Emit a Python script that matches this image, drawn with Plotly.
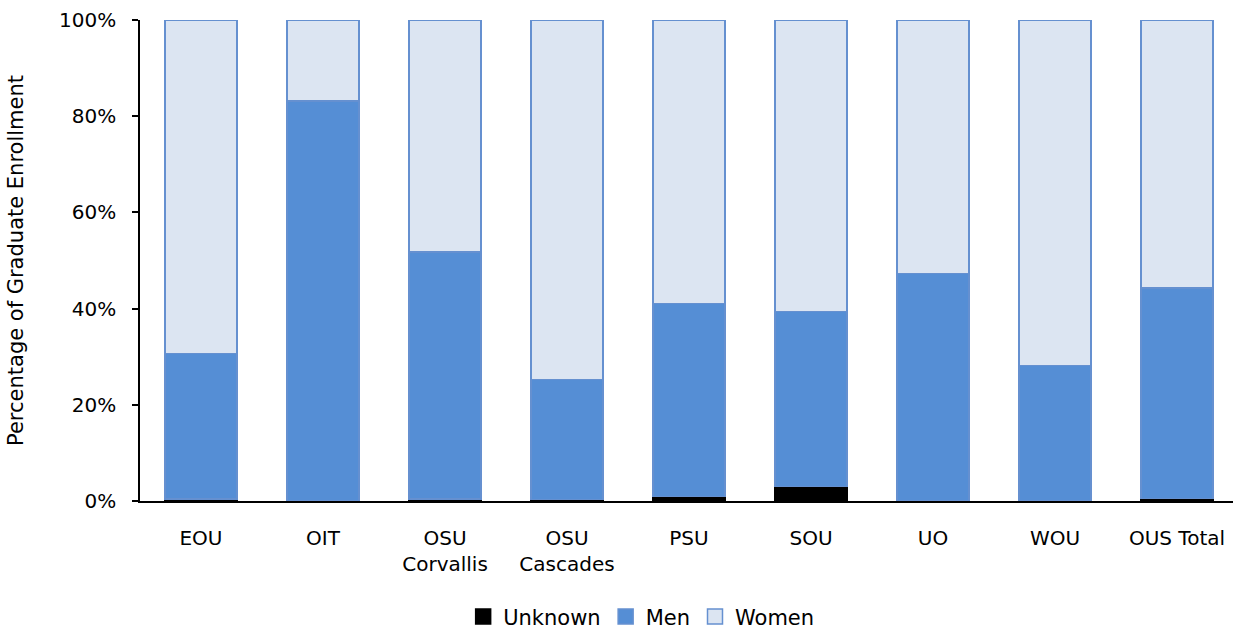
import plotly.graph_objects as go

categories = ["EOU", "OIT", "OSU<br>Corvallis", "OSU<br>Cascades", "PSU", "SOU", "UO", "WOU", "OUS Total"]
unknown = [0.4, 0.0, 0.4, 0.3, 0.9, 3.0, 0.0, 0.0, 0.5]
men = [30.3, 83.2, 51.4, 25.0, 40.2, 36.4, 47.3, 28.2, 43.8]
women = [round(100 - u - m, 2) for u, m in zip(unknown, men)]

series_names = ["Unknown", "Men", "Women"]
fill_colors = ["#000000", "#558ED5", "#DCE5F2"]
edge_colors = ["#000000", "#6590D0", "#6590D0"]

font_family = "DejaVu Sans"

fig = go.Figure()
for name, vals, fc, ec in zip(series_names, [unknown, men, women], fill_colors, edge_colors):
    fig.add_trace(go.Bar(name=name, x=categories, y=vals, showlegend=False,
                         marker=dict(color=fc, line=dict(color=ec, width=1.5))))
# legend entries with larger square swatches
for name, fc, ec in zip(series_names, fill_colors, edge_colors):
    fig.add_trace(go.Scatter(name=name, x=[None], y=[None], mode="markers",
                             marker=dict(symbol="square", size=15, color=fc,
                                         line=dict(color=ec, width=1.5))))

fig.update_layout(
    width=1233, height=632,
    barmode="stack", bargap=0.406,
    plot_bgcolor="white", paper_bgcolor="white",
    margin=dict(l=140, r=0, t=20, b=131),
    font=dict(family=font_family, size=20, color="#000000"),
    showlegend=True,
    legend=dict(orientation="h", traceorder="normal",
                xref="container", yref="container",
                x=0.52, xanchor="center", y=0.024, yanchor="middle",
                font=dict(size=21), itemwidth=30),
    xaxis=dict(range=[-0.5, -0.5 + 1093 / 122], showline=True, linecolor="#000000",
               linewidth=1.5, ticks="", showgrid=False, ticklabelstandoff=18,
               tickfont=dict(size=20)),
    yaxis=dict(range=[0, 100], tickvals=[0, 20, 40, 60, 80, 100],
               ticktext=["0%", "20%", "40%", "60%", "80%", "100%"],
               showline=True, linecolor="#000000", linewidth=1.5,
               ticks="outside", ticklen=6, tickcolor="#000000", tickwidth=1.5,
               showgrid=False, zeroline=False, ticklabelstandoff=12,
               title=dict(text="Percentage of Graduate Enrollment", standoff=30,
                          font=dict(size=21)),
               tickfont=dict(size=20)),
)

fig.write_html("out.html", config={"displayModeBar": False},
               post_script="document.body.style.margin='0';document.body.style.overflow='hidden';")
